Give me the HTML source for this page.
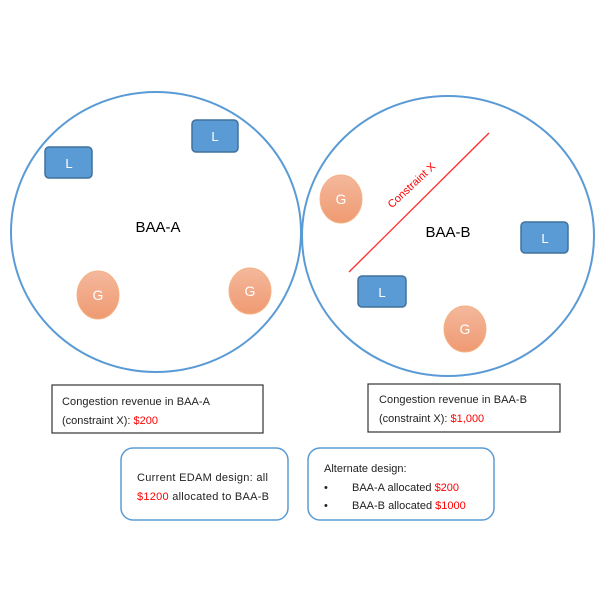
<!DOCTYPE html>
<html><head><style>body{margin:0;background:#fff}</style></head><body>
<svg width="600" height="600" xmlns="http://www.w3.org/2000/svg" font-family="Liberation Sans, sans-serif">
<defs><linearGradient id="g" x1="0" y1="0" x2="0" y2="1"><stop offset="0" stop-color="#f4b89c"/><stop offset="1" stop-color="#ef9a72"/></linearGradient></defs>
<ellipse cx="156" cy="232" rx="145" ry="140" fill="none" stroke="#5b9bd5" stroke-width="2"/>
<ellipse cx="448" cy="236" rx="146" ry="140" fill="none" stroke="#5b9bd5" stroke-width="2"/>
<g fill="#5b9bd5" stroke="#41719c" stroke-width="1.5">
<rect x="192" y="120" width="46" height="32" rx="4"/>
<rect x="45" y="147" width="47" height="31" rx="4"/>
<rect x="521" y="222" width="47" height="31" rx="4"/>
<rect x="358" y="276" width="48" height="31" rx="4"/>
</g>
<g fill="url(#g)" stroke="#f4b183" stroke-width="1">
<ellipse cx="98" cy="295" rx="21" ry="24"/>
<ellipse cx="250" cy="291" rx="21" ry="23"/>
<ellipse cx="341" cy="199" rx="21" ry="24"/>
<ellipse cx="465" cy="329" rx="21" ry="23"/>
</g>
<g fill="#fff" font-size="13" text-anchor="middle">
<text x="215" y="141">L</text><text x="69" y="168">L</text><text x="545" y="243">L</text><text x="382" y="297">L</text>
<text x="98" y="300" font-size="14">G</text><text x="250" y="296" font-size="14">G</text><text x="341" y="204" font-size="14">G</text><text x="465" y="334" font-size="14">G</text>
</g>
<line x1="349" y1="272" x2="489" y2="133" stroke="#ff2a2a" stroke-width="1.3"/>
<text x="414" y="188" fill="#ff0000" font-size="11" text-anchor="middle" transform="rotate(-43 414 188)">Constraint X</text>
<text x="158" y="232" font-size="15" text-anchor="middle">BAA-A</text>
<text x="448" y="237" font-size="15" text-anchor="middle">BAA-B</text>
<rect x="52" y="385" width="211" height="48" fill="none" stroke="#333" stroke-width="1.2"/>
<rect x="368" y="384" width="192" height="48" fill="none" stroke="#333" stroke-width="1.2"/>
<g font-size="11" fill="#222">
<text x="62" y="405" textLength="148">Congestion revenue in BAA-A</text>
<text x="62" y="424">(constraint X): <tspan fill="#ff0000">$200</tspan></text>
<text x="379" y="403" textLength="148">Congestion revenue in BAA-B</text>
<text x="379" y="422">(constraint X): <tspan fill="#ff0000">$1,000</tspan></text>
</g>
<rect x="121" y="448" width="167" height="72" rx="12" fill="none" stroke="#5b9bd5" stroke-width="1.5"/>
<rect x="308" y="448" width="186" height="72" rx="12" fill="none" stroke="#5b9bd5" stroke-width="1.5"/>
<g font-size="11" fill="#222">
<text x="137" y="481" textLength="131">Current EDAM design: all</text>
<text x="137" y="500" textLength="132"><tspan fill="#ff0000">$1200</tspan> allocated to BAA-B</text>
<text x="324" y="472">Alternate design:</text>
<text x="324" y="491">•</text><text x="352" y="491">BAA-A allocated <tspan fill="#ff0000">$200</tspan></text>
<text x="324" y="509">•</text><text x="352" y="509">BAA-B allocated <tspan fill="#ff0000">$1000</tspan></text>
</g>
</svg>
</body></html>
